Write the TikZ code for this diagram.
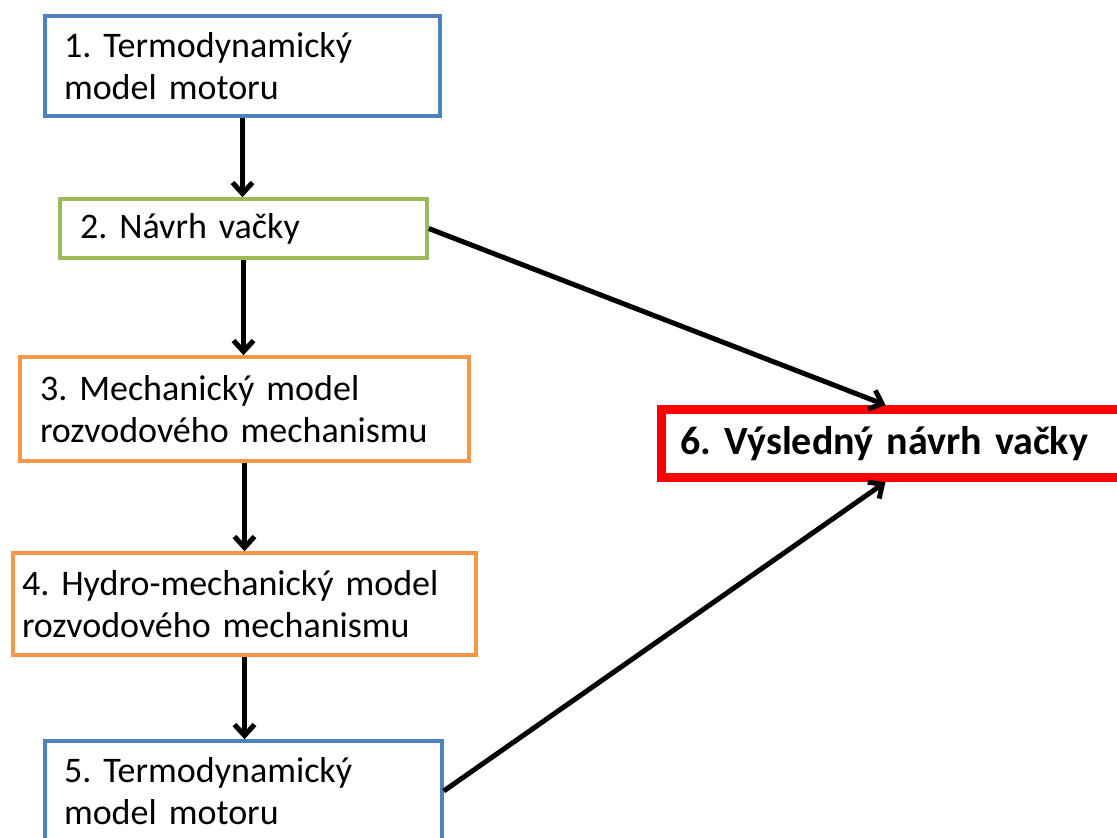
\documentclass[tikz,border=0pt]{standalone}
\usepackage{fontspec}
\setmainfont{Carlito}[WordSpace=0.6]
\usetikzlibrary{arrows.meta,calc}

\definecolor{boxblue}{HTML}{4F81BD}
\definecolor{boxgreen}{HTML}{9BBB59}
\definecolor{boxorange}{HTML}{F79646}
\definecolor{boxred}{HTML}{FF0000}

\tikzset{
  stagebox/.style={draw=#1, line width=3.5pt, fill=white, rectangle,
    inner sep=0pt, align=left,
    font=\frenchspacing\fontsize{36}{42}\selectfont},
  resultbox/.style={draw=boxred, line width=9pt, fill=white, rectangle,
    inner sep=0pt, align=left,
    font=\frenchspacing\fontsize{40}{46}\selectfont\bfseries},
  flow/.style={line width=5pt, draw=black,
    -{Straight Barb[length=11pt,width=20pt]}},
}

\begin{document}
\begin{tikzpicture}[x=1pt,y=-1pt]
  \useasboundingbox (0,0) rectangle (1117,838);
  \fill[white] (0,0) rectangle (1117,838);

  % left column of stages
  \node[stagebox=boxblue, minimum width=395pt, minimum height=100pt,
        text width=357pt] (b1) at (242.5,66)
        {1. Termodynamický\\model motoru};
  \node[stagebox=boxgreen, minimum width=367pt, minimum height=59pt,
        text width=327pt] (b2) at (243.5,228.5)
        {2. Návrh vačky};
  \node[stagebox=boxorange, minimum width=449pt, minimum height=104pt,
        text width=409pt] (b3) at (244.5,409)
        {3. Mechanický model\\rozvodového mechanismu};
  \node[stagebox=boxorange, minimum width=463pt, minimum height=102pt,
        text width=445pt] (b4) at (244.5,604)
        {4. Hydro-mechanický model\\rozvodového mechanismu};
  \node[stagebox=boxblue, minimum width=397pt, minimum height=100pt,
        text width=359pt] (b5) at (243.5,791)
        {5. Termodynamický\\model motoru};

  % final result
  \node[resultbox, minimum width=480pt, minimum height=68pt,
        text width=443pt] (b6) at (901.5,443.5)
        {6. Výsledný návrh vačky};

  \path (b6.north west) ++(228.5,0) coordinate (b6in1);
  \path (b6.south west) ++(228.5,0) coordinate (b6in2);

  % connectors
  \draw[flow] (b1.south) -- (b1.south |- b2.north);
  \draw[flow] (b2.south) -- (b2.south |- b3.north);
  \draw[flow] (b3.south) -- (b3.south |- b4.north);
  \draw[flow] (b4.south) -- (b4.south |- b5.north);
  \draw[flow] (b2.east) -- (b6in1);
  \draw[flow] (b5.east) -- (b6in2);
\end{tikzpicture}
\end{document}
